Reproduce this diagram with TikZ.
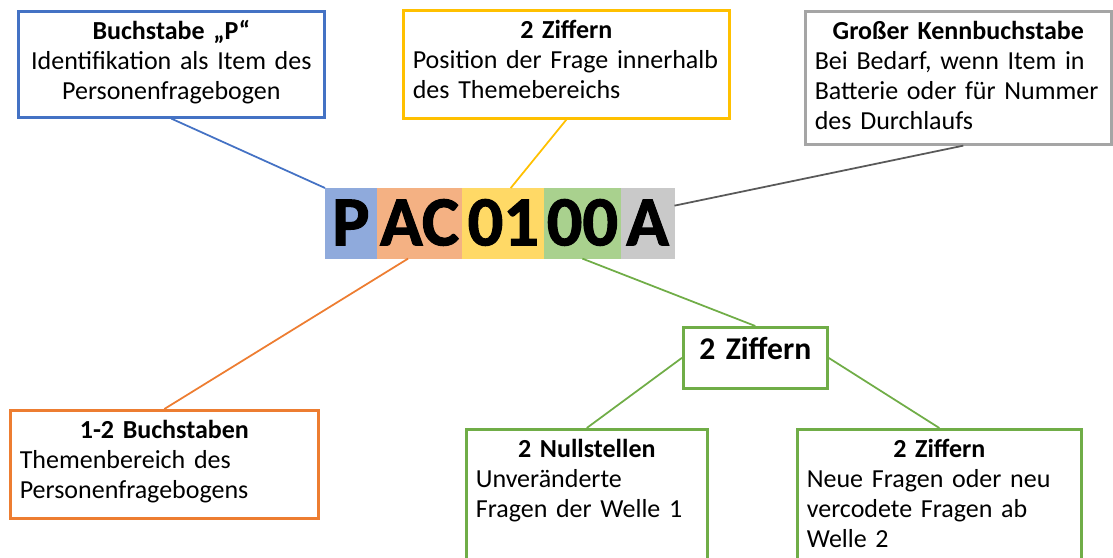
\documentclass[tikz,border=0pt]{standalone}
\usepackage{fontspec}
\setmainfont{Carlito}[WordSpace=0.8]
\newfontfamily\codefont{Carlito}[BoldFeatures={FakeBold=1.5}]
\usepackage{tikz}
\usetikzlibrary{positioning,calc}
\definecolor{lineblue}{HTML}{4472C4}
\definecolor{lineorange}{HTML}{ED7D31}
\definecolor{lineyellow}{HTML}{FFC000}
\definecolor{linegreen}{HTML}{70AD47}
\definecolor{linegray}{HTML}{A5A5A5}
\definecolor{linedark}{HTML}{595959}
\definecolor{segblue}{HTML}{8FAADC}
\definecolor{segorange}{HTML}{F4B183}
\definecolor{segyellow}{HTML}{FFD966}
\definecolor{seggreen}{HTML}{A9D18E}
\definecolor{seggray}{HTML}{C9C9C9}
\newcommand{\boxtitle}[1]{\hfill\textbf{#1}\hfill\null}

\begin{document}
\begin{tikzpicture}[scale=0.2,
  infobox/.style={draw, line width=1.5pt, fill=white, anchor=north west, align=left,
    inner xsep=5.4pt, inner ysep=0pt, text height=16pt, font=\fontsize{14.8}{17.1}\selectfont},
  codeseg/.style={inner sep=0pt, minimum height=39.8pt, text height=25pt, text depth=0pt,
    line width=0.4pt, font=\fontsize{40}{40}\selectfont\codefont\bfseries},
  link/.style={line width=1pt}]
\useasboundingbox (0,0) rectangle (111.3,-55.8);
\clip (0,0) rectangle (111.3,-55.8);
\node [codeseg, fill=segblue, draw=segblue, minimum width=29pt, anchor=north west] (P) at (32.5,-18.8) {P};
\node [codeseg, fill=segorange, draw=segorange, minimum width=48.4pt, right=0pt of P] (AC) {AC};
\node [codeseg, fill=segyellow, draw=segyellow, minimum width=46.1pt, right=0pt of AC] (d01) {01};
\node [codeseg, fill=seggreen, draw=seggreen, minimum width=43.2pt, right=0pt of d01] (d00) {00};
\node [codeseg, fill=seggray, draw=seggray, minimum width=30.2pt, right=0pt of d00] (A) {A};
\node [infobox, draw=lineblue, align=center, text width=163.3pt, text depth=44.3pt] (pbox) at (1.7,-1.0)
  {\textbf{Buchstabe „P“}\\Identifikation als Item des\\Personenfragebogen};
\node [infobox, draw=lineyellow, text width=174.7pt, text depth=45.5pt] (posbox) at (40.2,-0.9)
  {\boxtitle{2 Ziffern}\\Position der Frage innerhalb\\des Themebereichs};
\node [infobox, draw=linegray, text width=163.3pt, text depth=59.7pt] (kennbox) at (80.4,-1.0)
  {\boxtitle{Großer Kennbuchstabe}\\Bei Bedarf, wenn Item in\\Batterie oder für Nummer\\des Durchlaufs};
\node [infobox, draw=lineorange, text width=164.5pt, text depth=45.5pt] (themabox) at (0.9,-40.9)
  {\boxtitle{1-2 Buchstaben}\\Themenbereich des\\Personenfragebogens};
\node [infobox, draw=linegreen, align=center, text width=71.1pt, text height=18.2pt, text depth=16.5pt,
  font=\fontsize{18}{20}\selectfont\bfseries] (zifbox) at (68.2,-32.6) {2 Ziffern};
\node [infobox, draw=linegreen, text width=126.3pt, text depth=60pt] (nullbox) at (46.5,-42.8)
  {\boxtitle{2 Nullstellen}\\Unveränderte\\Fragen der Welle 1};
\node [infobox, draw=linegreen, text width=150.8pt, text depth=60pt] (neubox) at (79.6,-42.8)
  {\boxtitle{2 Ziffern}\\Neue Fragen oder neu\\vercodete Fragen ab\\Welle 2};
\draw [link, lineblue] (pbox.south) -- (P.north west);
\draw [link, lineyellow] (posbox.south) -- ($(d01.north)+(0.75,0)$);
\draw [link, linedark] ($(kennbox.south)+(0.5,0)$) -- ($(A.north east)!0.25!(A.south east)$);
\draw [link, lineorange] ($(AC.south)+(-1.15,0)$) -- (themabox.north);
\draw [link, linegreen] (d00.south) -- (zifbox.north);
\draw [link, linegreen] (zifbox.west) -- (nullbox.north);
\draw [link, linegreen] (zifbox.east) -- (neubox.north);
\end{tikzpicture}
\end{document}
